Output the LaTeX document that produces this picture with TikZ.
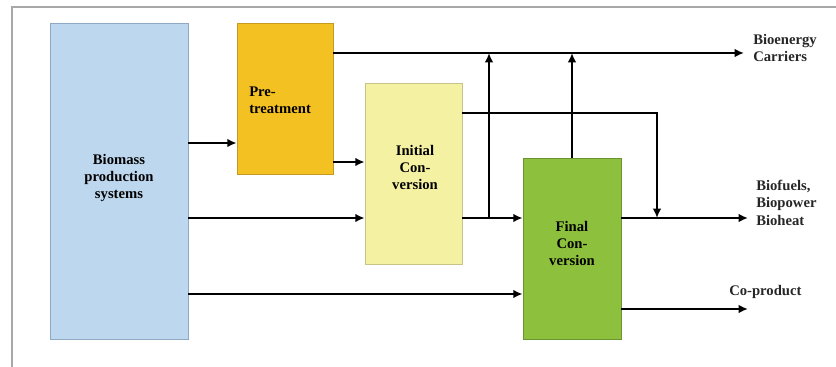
\documentclass[tikz,border=0pt]{standalone}
\usepackage{fontspec}
\setmainfont{Liberation Serif}
\usetikzlibrary{arrows.meta}
\definecolor{bioblue}{HTML}{BDD7EE}
\definecolor{bioblueB}{HTML}{8FA8C4}
\definecolor{preorange}{HTML}{F4C122}
\definecolor{preorangeB}{HTML}{C49A20}
\definecolor{inipale}{HTML}{F5F1A2}
\definecolor{inipaleB}{HTML}{C8C488}
\definecolor{fingreen}{HTML}{8DC03C}
\definecolor{fingreenB}{HTML}{6A9430}
\definecolor{framegray}{HTML}{A8A8A8}
\tikzset{
  boxstyle/.style={draw, line width=0.6pt, rectangle, inner sep=0pt},
  boxtext/.style={font=\fontsize{11}{12.75}\selectfont\bfseries, align=center, inner sep=0pt, text=black},
  outlabel/.style={font=\fontsize{11}{13}\selectfont\bfseries, align=left, inner sep=0pt, text=black!85},
  arr/.style={line width=1.8pt, -{Latex[length=7pt,width=6.5pt]}},
  ln/.style={line width=1.8pt}
}
\begin{document}
\begin{tikzpicture}[x=0.75pt,y=-0.75pt]
\useasboundingbox (0,0) rectangle (836,367);
% frame
\draw[framegray, line width=1.5pt] (12,367) -- (12,7) -- (836,7);
% boxes
\node[boxstyle, fill=bioblue, draw=bioblueB, minimum width=103.5pt, minimum height=237pt] (bio) at (119,181) {};
\node[boxstyle, fill=preorange, draw=preorangeB, minimum width=72pt, minimum height=113.25pt] (pre) at (285,98.5) {};
\node[boxstyle, fill=inipale, draw=inipaleB, minimum width=72.75pt, minimum height=135.75pt] (ini) at (413.5,173.5) {};
\node[boxstyle, fill=fingreen, draw=fingreenB, minimum width=73.5pt, minimum height=135.75pt] (fin) at (572,248.5) {};
% box texts
\node[boxtext] (biot) at (119,178) {Biomass\\production\\systems};
\node[boxtext, align=left, anchor=west] (pret) at (249,100) {Pre-\\treatment};
\node[boxtext] (init) at (415,167) {Initial\\Con-\\version};
\node[boxtext] (fint) at (572,243) {Final\\Con-\\version};
% helper coordinates
\coordinate (y53) at (0,53);
\coordinate (y113) at (0,113);
\coordinate (y143) at (0,143);
\coordinate (y162) at (0,162);
\coordinate (y218) at (0,218);
\coordinate (y294) at (0,294);
\coordinate (y309) at (0,309);
\coordinate (j1) at (489,218);
\coordinate (t1) at (489,53);
\coordinate (t2) at (572,53);
\coordinate (c1) at (657,113);
\coordinate (d1) at (657,218);
\coordinate (o1) at (744,53);
\coordinate (o2) at (748,218);
\coordinate (o3) at (748,309);
% connectors
\draw[arr] (bio.east |- y143) -- (pre.west |- y143);
\draw[arr] (pre.east |- y162) -- (ini.west |- y162);
\draw[arr] (pre.east |- y53) -- (o1);
\draw[arr] (bio.east |- y218) -- (ini.west |- y218);
\draw[arr] (ini.east |- y218) -- (fin.west |- y218);
\draw[arr] (j1) -- (t1);
\draw[arr] (fin.north) -- (t2);
\draw[arr] (ini.east |- y113) -- (c1) -- (d1);
\draw[arr] (fin.east |- y218) -- (o2);
\draw[arr] (bio.east |- y294) -- (fin.west |- y294);
\draw[arr] (fin.east |- y309) -- (o3);
% output labels
\node[outlabel, anchor=north west] (l1) at (753,34) {Bioenergy\\Carriers};
\node[outlabel, anchor=north west] (l2) at (756,180) {Biofuels,\\Biopower\\Bioheat};
\node[outlabel, anchor=base west] (l3) at (729,296) {Co-product};
\end{tikzpicture}
\end{document}
